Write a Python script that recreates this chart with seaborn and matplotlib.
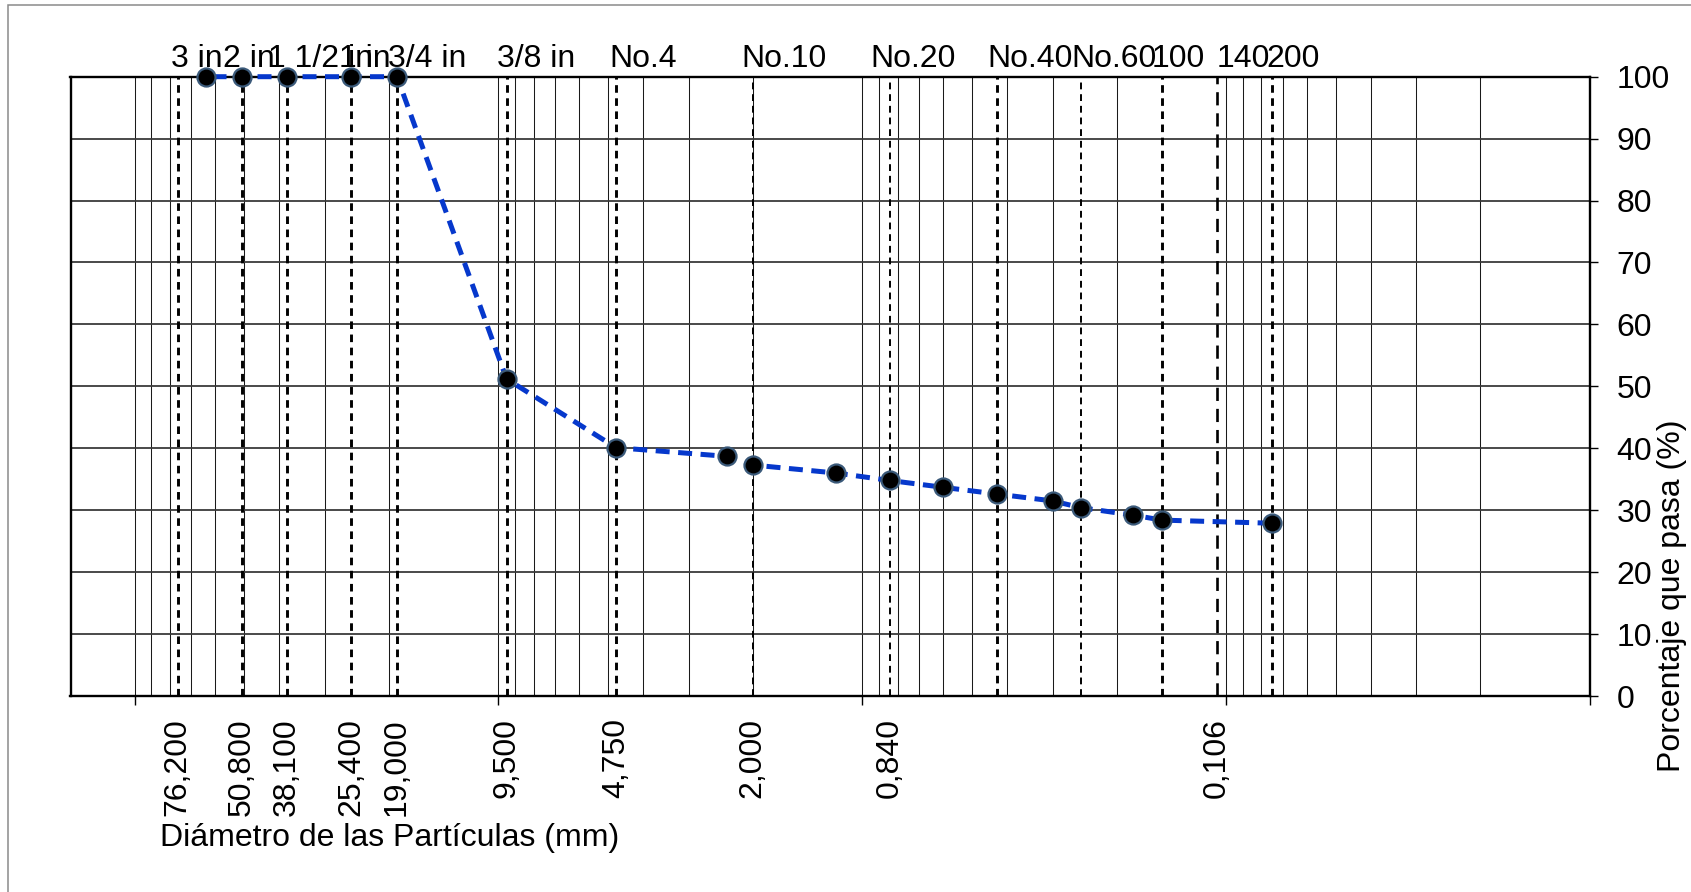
import numpy as np
import pandas as pd
import matplotlib
matplotlib.use("Agg")
import matplotlib.pyplot as plt
import matplotlib.ticker as mticker
from matplotlib.patches import Rectangle
import seaborn as sns

# data
sieve_mm = [63.5, 50.8, 38.1, 25.4, 19.0, 9.5, 4.75, 2.36, 2.0, 1.18, 0.84,
            0.6, 0.425, 0.3, 0.25, 0.18, 0.15, 0.075]
passing = [100, 100, 100, 100, 100, 51.2, 40.1, 38.7, 37.3, 36.0, 34.8,
           33.7, 32.6, 31.5, 30.4, 29.2, 28.4, 27.9]

# reference sieves (dashed verticals) and their names
ref_mm = [76.2, 50.8, 38.1, 25.4, 19.0, 9.5, 4.75, 2.0, 0.84, 0.425, 0.25,
          0.15, 0.106, 0.075]
ref_names = ["3 in", "2 in", "1 1/2 in", "1 in", "3/4 in", "3/8 in", "No.4",
             "No.10", "No.20", "No.40", "No.60", "100", "140", "200"]
# sizes written under the axis
labeled_mm = [76.2, 50.8, 38.1, 25.4, 19.0, 9.5, 4.75, 2.0, 0.84, 0.106]

y_ticks = list(range(0, 101, 10))

# horizontal nudge of each name (px), as placed in the original
name_dx = [-7, -19, -19, -12, -9, -10, -7, -11, -19, -10, -10, -10, 0, -5]

sns.set_style("white")
plt.rcParams['font.family'] = ['Liberation Sans', 'DejaVu Sans']
plt.rcParams['text.color'] = 'black'
plt.rcParams['xtick.color'] = 'black'
plt.rcParams['ytick.color'] = 'black'
plt.rcParams['axes.labelcolor'] = 'black'
FS = 23
PX = 72 / 100  # points per pixel

fig = plt.figure(figsize=(16.91, 8.92), dpi=100)
ax = fig.add_axes([70.5 / 1691, 1 - 696 / 892, 1519.5 / 1691, 619.3 / 892])

# outer chart frame (cropped)
fig.add_artist(Rectangle((7.5 / 1691, -0.5), 2, 0.5 + 1 - 5 / 892,
                         transform=fig.transFigure, fill=False,
                         edgecolor='#8a8a8a', lw=1.1, zorder=0))

ax.set_xscale('log')
ax.set_xlim(150, 0.01)
ax.set_ylim(0, 100)

ax.xaxis.set_major_locator(mticker.LogLocator(base=10, numticks=10))
ax.xaxis.set_minor_locator(mticker.LogLocator(base=10, subs=np.arange(2, 10), numticks=20))
ax.xaxis.set_major_formatter(mticker.NullFormatter())
ax.xaxis.set_minor_formatter(mticker.NullFormatter())
ax.tick_params(axis='x', which='major', direction='out', length=6.5, width=1,
               color='black', bottom=True)
ax.tick_params(axis='x', which='minor', length=0)

ax.grid(True, axis='x', which='both', color='#1a1a1a', lw=0.75, zorder=1)
ax.grid(True, axis='y', which='major', color='#3a3a3a', lw=1.3, zorder=1)
ax.set_axisbelow(True)

ax.yaxis.tick_right()
ax.set_yticks(y_ticks)
ax.tick_params(axis='y', which='major', direction='out', length=6, width=1,
               color='black', pad=13, labelsize=FS, labelcolor='black',
               right=True, left=False)

for s in ax.spines.values():
    s.set_color('black')
    s.set_linewidth(1.7)

# dashed sieve lines
for v in ref_mm:
    if v == 0.106:
        ax.axvline(v, color='black', lw=1.9, dashes=(5, 3), zorder=2)
    elif v in (2.0, 0.84, 0.25):
        ax.axvline(v, color='black', lw=1.4, dashes=(3.5, 2.5), zorder=2)
    else:
        ax.axvline(v, color='black', lw=2.1, dashes=(2.6, 1.9), zorder=2)

# grading curve
df = pd.DataFrame({'mm': sieve_mm, 'pasa': passing})
sns.lineplot(data=df, x='mm', y='pasa', ax=ax, color='#0638cc', lw=3.6,
             dashes=False, linestyle=(0, (2.8, 1.7)), marker='o', markersize=13,
             markerfacecolor='black', markeredgecolor='#3b5a7a',
             markeredgewidth=1.6, zorder=5, clip_on=False, legend=False)

ax.set_xlabel('')
ax.set_ylabel('')

# sieve names above the plot
for v, name, dx in zip(ref_mm, ref_names, name_dx):
    ax.annotate(name, xy=(v, 1), xycoords=('data', 'axes fraction'),
                xytext=(dx * PX, 7), textcoords='offset points', ha='left',
                va='baseline', fontsize=FS, color='black',
                annotation_clip=False)

# sizes under the axis
for v in labeled_mm:
    ax.annotate(f"{v:.3f}".replace('.', ','), xy=(v, 0),
                xycoords=('data', 'axes fraction'), xytext=(0, -16),
                textcoords='offset points', ha='center', va='top',
                rotation=90, fontsize=FS, color='black',
                annotation_clip=False)

fig.text(160 / 1691, 1 - 838 / 892, 'Diámetro de las Partículas (mm)',
         ha='left', va='center', fontsize=FS, color='black')
fig.text(1672 / 1691, 1 - 596 / 892, 'Porcentaje que pasa (%)',
         ha='center', va='center', rotation=90, fontsize=FS, color='black')

fig.savefig('out.png', dpi=100)
